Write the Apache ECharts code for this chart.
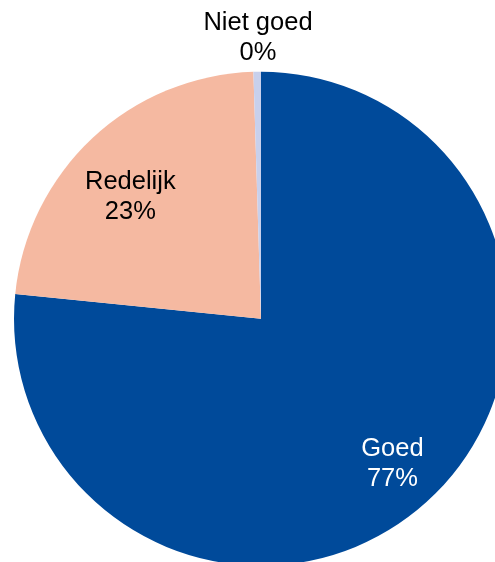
<!DOCTYPE html>
<html><head><meta charset="utf-8">
<script src="https://cdn.jsdelivr.net/npm/echarts@6/dist/echarts.min.js"></script>
<style>html,body{margin:0;padding:0;background:#fff}#c{width:495px;height:562px}</style>
</head><body><div id="c"></div>
<script>
const categories = ['Goed', 'Redelijk', 'Niet goed'];
const shares = [76.6, 22.91, 0.49];

const colors = ['#004A9A', '#F5B9A1', '#C8D0EC'];
const labelColors = ['#ffffff', '#000000', '#000000'];
const labelShifts = [[0, 0], [3, 22], [0, -85]];

const CX = 261, CY = 318.7, R = 247, R0 = 139;

const chart = echarts.init(document.getElementById('c'), null, {renderer: 'canvas'});

const pieData = categories.map((name, i) => ({
  name, value: shares[i], itemStyle: {color: colors[i]}
}));
const labelData = categories.map((name, i) => ({
  name, value: shares[i],
  label: {color: labelColors[i], offset: labelShifts[i]}
}));

chart.setOption({
  animation: false,
  backgroundColor: '#ffffff',
  series: [
    {
      type: 'pie', center: [CX, CY], radius: [0, R],
      startAngle: 90, clockwise: true, silent: true,
      avoidLabelOverlap: false,
      label: {show: false}, labelLine: {show: false},
      itemStyle: {borderWidth: 0},
      data: pieData
    },
    {
      type: 'pie', center: [CX, CY], radius: [R0, R],
      startAngle: 90, clockwise: true, silent: true,
      avoidLabelOverlap: false,
      itemStyle: {color: 'rgba(0,0,0,0)', borderWidth: 0},
      labelLine: {show: false},
      label: {
        show: true, position: 'inside',
        fontFamily: 'Liberation Sans, Arial, sans-serif',
        fontSize: 25.5, lineHeight: 30,
        formatter: p => p.name + '\n' + Math.round(p.value) + '%'
      },
      data: labelData
    }
  ]
});
</script></body></html>
